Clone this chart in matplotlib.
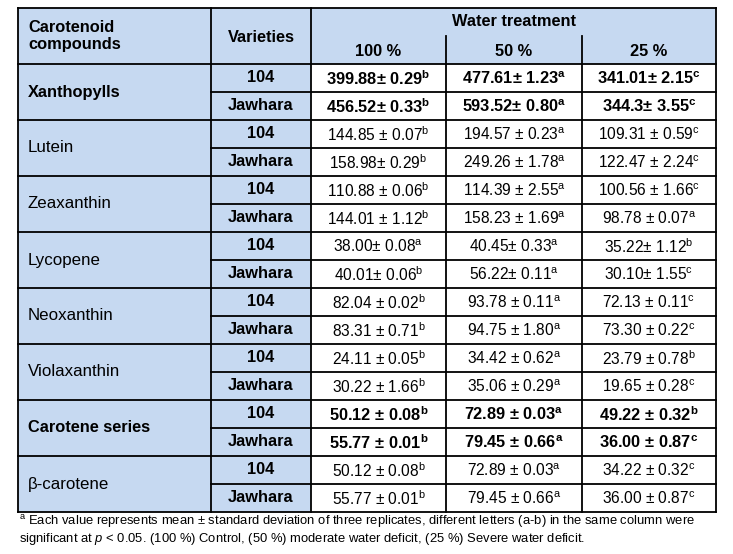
import matplotlib
matplotlib.use("Agg")
import matplotlib.pyplot as plt
from matplotlib.patches import Rectangle

plt.rcParams['font.family'] = ['Liberation Sans', 'DejaVu Sans']
plt.rcParams['mathtext.fontset'] = 'custom'
plt.rcParams['mathtext.rm'] = 'Liberation Sans'
plt.rcParams['mathtext.it'] = 'Liberation Sans:italic'
plt.rcParams['mathtext.bf'] = 'Liberation Sans:bold'

# ---------------- data ----------------
compounds = ["Xanthopylls", "Lutein", "Zeaxanthin", "Lycopene", "Neoxanthin",
             "Violaxanthin", "Carotene series", "β-carotene"]
compound_bold = [True, False, False, False, False, False, True, False]
varieties = ["104", "Jawhara"]
water_levels = ["100 %", "50 %", "25 %"]

values_100 = ["399.88± 0.29", "456.52± 0.33", "144.85 ± 0.07", "158.98± 0.29",
              "110.88 ± 0.06", "144.01 ± 1.12", "38.00± 0.08", "40.01± 0.06",
              "82.04 ± 0.02", "83.31 ± 0.71", "24.11 ± 0.05", "30.22 ± 1.66",
              "50.12 ± 0.08", "55.77 ± 0.01", "50.12 ± 0.08", "55.77 ± 0.01"]
letters_100 = ["b", "b", "b", "b", "b", "b", "a", "b",
               "b", "b", "b", "b", "b", "b", "b", "b"]
values_50 = ["477.61± 1.23", "593.52± 0.80", "194.57 ± 0.23", "249.26 ± 1.78",
             "114.39 ± 2.55", "158.23 ± 1.69", "40.45± 0.33", "56.22± 0.11",
             "93.78 ± 0.11", "94.75 ± 1.80", "34.42 ± 0.62", "35.06 ± 0.29",
             "72.89 ± 0.03", "79.45 ± 0.66", "72.89 ± 0.03", "79.45 ± 0.66"]
letters_50 = ["a"] * 16
values_25 = ["341.01± 2.15", "344.3± 3.55", "109.31 ± 0.59", "122.47 ± 2.24",
             "100.56 ± 1.66", "98.78 ± 0.07", "35.22± 1.12", "30.10± 1.55",
             "72.13 ± 0.11", "73.30 ± 0.22", "23.79 ± 0.78", "19.65 ± 0.28",
             "49.22 ± 0.32", "36.00 ± 0.87", "34.22 ± 0.32", "36.00 ± 0.87"]
letters_25 = ["c", "c", "c", "c", "c", "a", "b", "c",
              "c", "c", "b", "c", "b", "c", "c", "c"]

header_compound = "Carotenoid\ncompounds"
header_varieties = "Varieties"
header_water = "Water treatment"
footnote_1 = r"$^{\mathrm{a}}$ Each value represents mean ± standard deviation of three replicates, different letters (a-b) in the same column were"
footnote_2 = r"significant at $p$ < 0.05. (100 %) Control, (50 %) moderate water deficit, (25 %) Severe water deficit."

# ---------------- layout ----------------
W, H = 733, 554
fig = plt.figure(figsize=(W / 100, H / 100), dpi=100)
ax = fig.add_axes([0, 0, 1, 1])
ax.set_xlim(0, W)
ax.set_ylim(H, 0)
ax.axis('off')

blue = "#C6D9F1"
x0, x1, x2, x3, x4, x5 = 18, 211, 311, 446, 582, 716
y_top, y_head, y_sub = 8, 64, 36
row_h = 28
y_bot = y_head + row_h * 2 * len(compounds)

ax.add_patch(Rectangle((x0, y_top), x5 - x0, y_bot - y_top, facecolor=blue, edgecolor='none'))
ax.add_patch(Rectangle((x2, y_head), x5 - x2, y_bot - y_head, facecolor='white', edgecolor='none'))

lw = 1.3
def hline(y, xa, xb):
    ax.plot([xa, xb], [y, y], color='black', lw=lw, solid_capstyle='projecting')
def vline(x, ya, yb):
    ax.plot([x, x], [ya, yb], color='black', lw=lw, solid_capstyle='projecting')

hline(y_top, x0, x5)
hline(y_bot, x0, x5)
vline(x0, y_top, y_bot)
vline(x5, y_top, y_bot)
vline(x1, y_top, y_bot)
vline(x2, y_top, y_bot)
vline(x3, y_sub, y_bot)
vline(x4, y_sub, y_bot)
for g in range(len(compounds)):
    yg = y_head + g * 2 * row_h
    hline(yg, x0, x5)
    hline(yg + row_h, x1, x5)

hsize = 11.8
dsize = 11.2
# header text
ax.text(28, y_sub, header_compound, ha='left', va='center', fontsize=hsize,
        fontweight='bold', linespacing=1.15)
ax.text((x1 + x2) / 2, y_sub + 1, header_varieties, ha='center', va='center',
        fontsize=hsize, fontweight='bold')
ax.text((x2 + x5) / 2, 22, header_water, ha='center', va='center',
        fontsize=hsize, fontweight='bold')
col_centers = [(x2 + x3) / 2, (x3 + x4) / 2, (x4 + x5) / 2]
for cx, lab in zip(col_centers, water_levels):
    ax.text(cx, 51, lab, ha='center', va='center', fontsize=hsize, fontweight='bold')

# body
cols = [(values_100, letters_100), (values_50, letters_50), (values_25, letters_25)]
for g, name in enumerate(compounds):
    yg = y_head + g * 2 * row_h
    bold = compound_bold[g]
    ax.text(28, yg + row_h, name, ha='left', va='center',
            fontsize=12.2 if not bold else hsize,
            fontweight='bold' if bold else 'normal')
    for k, var in enumerate(varieties):
        yc = yg + k * row_h + row_h / 2
        ax.text((x1 + x2) / 2, yc, var, ha='center', va='center',
                fontsize=hsize, fontweight='bold')
        idx = 2 * g + k
        for cx, (vals, lets) in zip(col_centers, cols):
            if bold:
                s = vals[idx] + r"$^{\mathbf{" + lets[idx] + "}}$"
            else:
                s = vals[idx] + r"$^{\mathrm{" + lets[idx] + "}}$"
            ax.text(cx, yc + 1, s, ha='center', va='center',
                    fontsize=hsize if bold else dsize,
                    fontweight='bold' if bold else 'normal')

ax.text(19, 522, footnote_1, ha='left', va='center', fontsize=9.4)
ax.text(19, 539, footnote_2, ha='left', va='center', fontsize=9.4)

fig.savefig("out.png", dpi=100, facecolor='white')
